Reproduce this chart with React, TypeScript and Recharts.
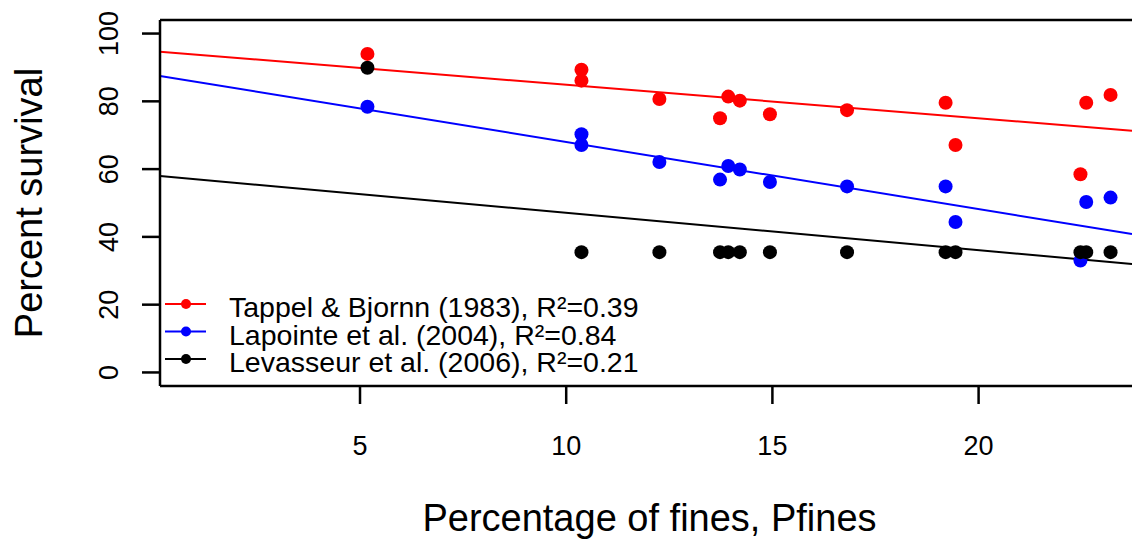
import { ScatterChart, Scatter, XAxis, YAxis, ReferenceLine } from 'recharts';

// values
const tappelX = [5.18, 10.37, 10.37, 12.26, 13.73, 13.93, 14.21, 14.94, 16.81, 19.2, 19.44, 22.47, 22.61, 23.2];
const tappelY = [94.0, 89.3, 86.1, 80.7, 75.0, 81.4, 80.2, 76.2, 77.4, 79.6, 67.1, 58.5, 79.6, 81.9];

const lapointeX = [5.18, 10.37, 10.37, 12.26, 13.73, 13.93, 14.21, 14.94, 16.81, 19.2, 19.44, 22.47, 22.61, 23.2];
const lapointeY = [78.4, 70.3, 67.1, 62.1, 56.9, 60.9, 59.9, 56.2, 54.9, 54.9, 44.4, 33.0, 50.3, 51.6];

const levasseurX = [5.18, 10.37, 12.26, 13.73, 13.93, 14.21, 14.94, 16.81, 19.2, 19.44, 22.47, 22.61, 23.2];
const levasseurY = [89.9, 35.5, 35.5, 35.5, 35.5, 35.5, 35.5, 35.5, 35.5, 35.5, 35.5, 35.5, 35.5];

// fitted lines: [intercept, slope]
const tappelFit = [94.8, -0.99];
const lapointeFit = [87.8, -1.98];
const levasseurFit = [58.1, -1.1];

const xTicks = [5, 10, 15, 20];
const yTicks = [0, 20, 40, 60, 80, 100];
const xDomain = [0.15, 23.72];
const yDomain = [-4, 104];

const FONT = '"Liberation Sans", Arial, Helvetica, sans-serif';

const zip = (xs: number[], ys: number[]) => xs.map((x, i) => ({ x, y: ys[i] }));

const series = [
  { name: 'Tappel & Bjornn (1983), R²=0.39', color: '#FF0000', data: zip(tappelX, tappelY), fit: tappelFit },
  { name: 'Lapointe et al. (2004), R²=0.84', color: '#0000FF', data: zip(lapointeX, lapointeY), fit: lapointeFit },
  { name: 'Levasseur et al. (2006), R²=0.21', color: '#000000', data: zip(levasseurX, levasseurY), fit: levasseurFit },
];

// drawing order in the original: blue, black, red on top
const drawOrder = [1, 2, 0];

const XTick = (props: any) => {
  const { x, y, payload } = props;
  return (
    <text x={x} y={y + 51} textAnchor="middle" fontSize={27} fontFamily={FONT} fill="#000">
      {payload.value}
    </text>
  );
};

const YTick = (props: any) => {
  const { x, y, payload } = props;
  const bx = x - 24;
  return (
    <text x={bx} y={y} transform={`rotate(-90, ${bx}, ${y})`} textAnchor="middle" fontSize={27} fontFamily={FONT} fill="#000">
      {payload.value}
    </text>
  );
};

const XTitle = (props: any) => {
  const vb = props.viewBox;
  return (
    <text x={vb.x + vb.width / 2 + 3.5} y={531} textAnchor="middle" fontSize={38} fontFamily={FONT} fill="#000">
      Percentage of fines, Pfines
    </text>
  );
};

const YTitle = (props: any) => {
  const vb = props.viewBox;
  const cy = vb.y + vb.height / 2;
  return (
    <text x={42} y={cy} transform={`rotate(-90, 42, ${cy})`} textAnchor="middle" fontSize={38} fontFamily={FONT} fill="#000">
      Percent survival
    </text>
  );
};

// R-style legend in the lower-left corner of the plot
const LegendBox = () => (
  <svg width={520} height={100} style={{ position: 'absolute', left: 160, top: 280, overflow: 'visible' }}>
    {series.map((s, i) => {
      const cy = 24 + i * 27.5;
      return (
        <g key={s.name}>
          <line x1={5} x2={46} y1={cy} y2={cy} stroke={s.color} strokeWidth={2} />
          <circle cx={26} cy={cy} r={5} fill={s.color} />
          <text x={69} y={cy + 13.3} fontSize={28.5} fontFamily={FONT} fill="#000">
            {s.name}
          </text>
        </g>
      );
    })}
  </svg>
);

const dot = (color: string) => (props: any) => <circle cx={props.cx} cy={props.cy} r={7} fill={color} />;

export default function App() {
  return (
    <div style={{ position: 'absolute', left: 0, top: 0, width: 1132, height: 541, background: '#fff' }}>
      <ScatterChart width={1132} height={541} margin={{ top: 20, right: 0, bottom: 0, left: 0 }}>
        <XAxis
          type="number"
          dataKey="x"
          domain={xDomain}
          ticks={xTicks}
          allowDataOverflow
          height={155}
          tickSize={18}
          tickMargin={0}
          tick={<XTick />}
          axisLine={{ stroke: '#000', strokeWidth: 2.5 }}
          tickLine={{ stroke: '#000', strokeWidth: 2.5 }}
          label={<XTitle />}
        />
        <YAxis
          type="number"
          dataKey="y"
          domain={yDomain}
          ticks={yTicks}
          allowDataOverflow
          width={160}
          tickSize={18}
          tickMargin={0}
          tick={<YTick />}
          axisLine={{ stroke: '#000', strokeWidth: 2.5 }}
          tickLine={{ stroke: '#000', strokeWidth: 2.5 }}
          label={<YTitle />}
        />
        <ReferenceLine y={yDomain[1]} stroke="#000" strokeWidth={2.5} />
        {drawOrder.map((i) => {
          const s = series[i];
          return (
            <Scatter
              key={s.name}
              name={s.name}
              data={s.data}
              fill={s.color}
              shape={dot(s.color)}
              isAnimationActive={false}
            />
          );
        })}
        {series.map((s) => (
          <ReferenceLine
            key={'fit-' + s.name}
            segment={[
              { x: xDomain[0], y: s.fit[0] + s.fit[1] * xDomain[0] },
              { x: xDomain[1], y: s.fit[0] + s.fit[1] * xDomain[1] },
            ]}
            stroke={s.color}
            strokeWidth={2}
            ifOverflow="hidden"
          />
        ))}
      </ScatterChart>
      <LegendBox />
    </div>
  );
}
